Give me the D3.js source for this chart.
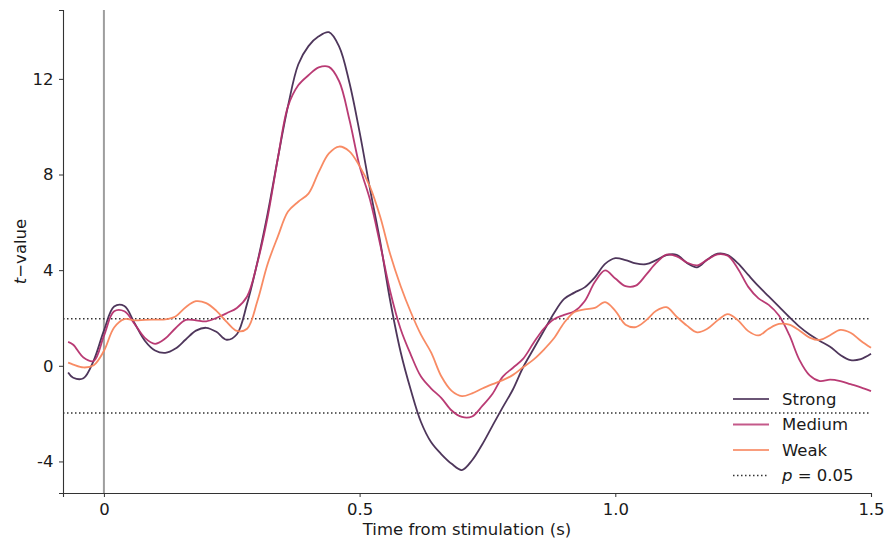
<!DOCTYPE html>
<html>
<head>
<meta charset="utf-8">
<script src="https://cdn.jsdelivr.net/npm/d3@7"></script>
<style>
    body { margin: 0; background: #fff; }
    text { font-family: "DejaVu Sans", sans-serif; fill: #1a1a1a; }
</style>
</head>
<body>
<div id="linechart"></div>
<script>

// time points (s)
var time = [-0.07, -0.06, -0.04, -0.02, 0.00, 0.02, 0.04, 0.06, 0.08, 0.10,
    0.12, 0.14, 0.16, 0.18, 0.20, 0.22, 0.24, 0.26, 0.28, 0.30,
    0.32, 0.34, 0.36, 0.38, 0.40, 0.42, 0.44, 0.46, 0.48, 0.50,
    0.52, 0.54, 0.56, 0.58, 0.60, 0.62, 0.64, 0.66, 0.68, 0.70,
    0.72, 0.74, 0.76, 0.78, 0.80, 0.82, 0.84, 0.86, 0.88, 0.90,
    0.92, 0.94, 0.96, 0.98, 1.00, 1.02, 1.04, 1.06, 1.08, 1.10,
    1.12, 1.14, 1.16, 1.18, 1.20, 1.22, 1.24, 1.26, 1.28, 1.30,
    1.32, 1.34, 1.36, 1.38, 1.40, 1.42, 1.44, 1.46, 1.48, 1.50];

var strong = [-0.28, -0.5, -0.52, 0.22, 1.47, 2.48, 2.5, 1.78, 1.05, 0.64,
    0.54, 0.72, 1.1, 1.47, 1.59, 1.42, 1.09, 1.32, 2.6, 4.32,
    6.35, 8.67, 10.87, 12.6, 13.37, 13.78, 13.95, 13.35, 11.85, 9.77,
    7.43, 5.22, 2.7, 0.6, -1.0, -2.35, -3.2, -3.7, -4.1, -4.36,
    -3.95, -3.28, -2.5, -1.73, -0.98, -0.05, 0.7, 1.45, 2.2, 2.8,
    3.06, 3.28, 3.7, 4.26, 4.5, 4.42, 4.28, 4.25, 4.42, 4.63,
    4.64, 4.3, 4.12, 4.45, 4.69, 4.63, 4.28, 3.8, 3.33, 2.9,
    2.47, 2.04, 1.64, 1.31, 1.04, 0.8, 0.45, 0.24, 0.28, 0.5];

var medium = [1.0, 0.88, 0.35, 0.2, 1.25, 2.28, 2.28, 1.75, 1.17, 0.92,
    1.14, 1.57, 1.92, 1.9, 1.86, 2.0, 2.2, 2.42, 2.9, 4.3,
    6.2, 8.66, 10.85, 11.73, 12.15, 12.48, 12.5, 11.9, 10.3, 8.35,
    6.97, 5.1, 3.1, 1.55, 0.47, -0.45, -0.95, -1.35, -1.87, -2.14,
    -2.12, -1.68, -1.17, -0.45, -0.08, 0.3, 0.95, 1.55, 1.95, 2.13,
    2.28, 2.7, 3.5, 3.99, 3.65, 3.33, 3.35, 3.8, 4.3, 4.65,
    4.58, 4.32, 4.2, 4.44, 4.66, 4.6, 4.05, 3.3, 2.82, 2.55,
    2.1, 1.3, 0.25, -0.4, -0.64, -0.58, -0.64, -0.77, -0.9, -1.06];

var weak = [0.13, 0.05, -0.07, 0.02, 0.62, 1.6, 1.95, 1.9, 1.92, 1.93,
    1.94, 2.06, 2.45, 2.7, 2.62, 2.3, 1.84, 1.46, 1.55, 2.7,
    4.25, 5.4, 6.45, 6.86, 7.2, 8.1, 8.88, 9.17, 8.97, 8.35,
    7.5, 6.25, 4.65, 3.35, 2.25, 1.3, 0.55, -0.45, -1.05, -1.27,
    -1.15, -0.95, -0.77, -0.6, -0.38, -0.05, 0.26, 0.67, 1.15, 1.8,
    2.25, 2.36, 2.42, 2.66, 2.3, 1.72, 1.62, 1.9, 2.3, 2.45,
    2.05, 1.68, 1.4, 1.55, 1.9, 2.16, 1.9, 1.45, 1.27, 1.55,
    1.75, 1.72, 1.48, 1.18, 1.08, 1.28, 1.5, 1.38, 1.05, 0.75];

var seriesNames = ["Strong", "Medium", "Weak"];
var seriesColors = ["#452b52", "#b5306d", "#f8855c"];
var xTicks = [0, 0.5, 1.0, 1.5];
var xTickLabels = ["0", "0.5", "1.0", "1.5"];
var yTicks = [-4, 0, 4, 8, 12];
var yTickLabels = ["-4", "0", "4", "8", "12"];
var threshold = 1.97;   // t for p = 0.05

var width  = 884;
var height = 542;
var margin = {
    top: 10,
    bottom: 49,
    left: 63,
    right: 13
};
var innerW = width - margin.left - margin.right;
var innerH = height - margin.top - margin.bottom;

var svg = d3.select('#linechart')
    .append('svg')
        .attr('width', width)
        .attr('height', height)
    .append('g')
        .attr('transform', 'translate(' + margin.left + ',' + margin.top + ')');

var xScale = d3.scaleLinear()
    .domain([-0.08, 1.5])
    .range([0, innerW]);

var yScale = d3.scaleLinear()
    .domain([-5.32, 14.88])
    .range([innerH, 0]);

// stimulus onset
svg.append('line')
    .attr('x1', xScale(0)).attr('x2', xScale(0))
    .attr('y1', 0).attr('y2', innerH)
    .attr('stroke', '#9e9e9e')
    .attr('stroke-width', 2);

// significance thresholds
[threshold, -threshold].forEach(function (t) {
    svg.append('line')
        .attr('x1', 0).attr('x2', innerW)
        .attr('y1', yScale(t)).attr('y2', yScale(t))
        .attr('stroke', '#333')
        .attr('stroke-width', 1.5)
        .attr('stroke-dasharray', '1.5,2.5');
});

// lines
var allSeries = [strong, medium, weak];
var line = d3.line()
    .x(function (d, i) { return xScale(time[i]); })
    .y(function (d) { return yScale(d); })
    .curve(d3.curveCatmullRom.alpha(0.5));

allSeries.forEach(function (s, k) {
    svg.append('path')
        .datum(s)
        .attr('fill', 'none')
        .attr('stroke', seriesColors[k])
        .attr('stroke-width', 1.8)
        .attr('stroke-opacity', 0.95)
        .attr('d', line);
});

// axes
var xAxis = d3.axisBottom(xScale)
    .tickValues(xTicks)
    .tickSize(4)
    .tickFormat(function (d, i) { return xTickLabels[i]; });
var gx = svg.append('g')
    .attr('transform', 'translate(0,' + innerH + ')')
    .call(xAxis);

var yAxis = d3.axisLeft(yScale)
    .tickValues(yTicks)
    .tickSize(4)
    .tickFormat(function (d, i) { return yTickLabels[i]; });
var gy = svg.append('g')
    .call(yAxis);

[gx, gy].forEach(function (g) {
    g.select('.domain').attr('stroke', '#333').attr('stroke-width', 1.1);
    g.selectAll('.tick line').attr('stroke', '#333');
    g.selectAll('.tick text')
        .style('font-family', '"DejaVu Sans", sans-serif')
        .style('font-size', '16.5px')
        .attr('fill', '#1a1a1a');
});
gx.selectAll('.tick text').attr('dy', '0.9em');
gy.selectAll('.tick text').attr('dx', '-0.15em');

// x axis label
svg.append('text')
    .attr('x', innerW / 2)
    .attr('y', innerH + 42)
    .attr('text-anchor', 'middle')
    .style('font-size', '16.5px')
    .text('Time from stimulation (s)');

// y axis label
var ylab = svg.append('text')
    .attr('transform', 'translate(' + (-37) + ',' + (innerH / 2) + ') rotate(-90)')
    .attr('text-anchor', 'middle')
    .style('font-size', '16.5px');
ylab.append('tspan').style('font-style', 'italic').text('t');
ylab.append('tspan').text('\u2212value');

// legend
var legend = svg.append('g')
    .attr('transform', 'translate(' + (733 - margin.left) + ',' + (399 - margin.top) + ')');

seriesNames.forEach(function (name, k) {
    var row = legend.append('g').attr('transform', 'translate(0,' + (k * 25.5) + ')');
    row.append('line')
        .attr('x1', 0).attr('x2', 36)
        .attr('stroke', seriesColors[k])
        .attr('stroke-opacity', 0.8)
        .attr('stroke-width', 2);
    row.append('text')
        .attr('x', 49)
        .attr('dy', '0.35em')
        .style('font-size', '16.5px')
        .text(name);
});

var pRow = legend.append('g').attr('transform', 'translate(0,' + (3 * 25.5) + ')');
pRow.append('line')
    .attr('x1', 0).attr('x2', 36)
    .attr('stroke', '#333')
    .attr('stroke-width', 1.5)
    .attr('stroke-dasharray', '1.5,2.5');
var pText = pRow.append('text')
    .attr('x', 49)
    .attr('dy', '0.35em')
    .style('font-size', '16.5px');
pText.append('tspan').style('font-style', 'italic').text('p');
pText.append('tspan').text(' = 0.05');

</script>
</body>
</html>
